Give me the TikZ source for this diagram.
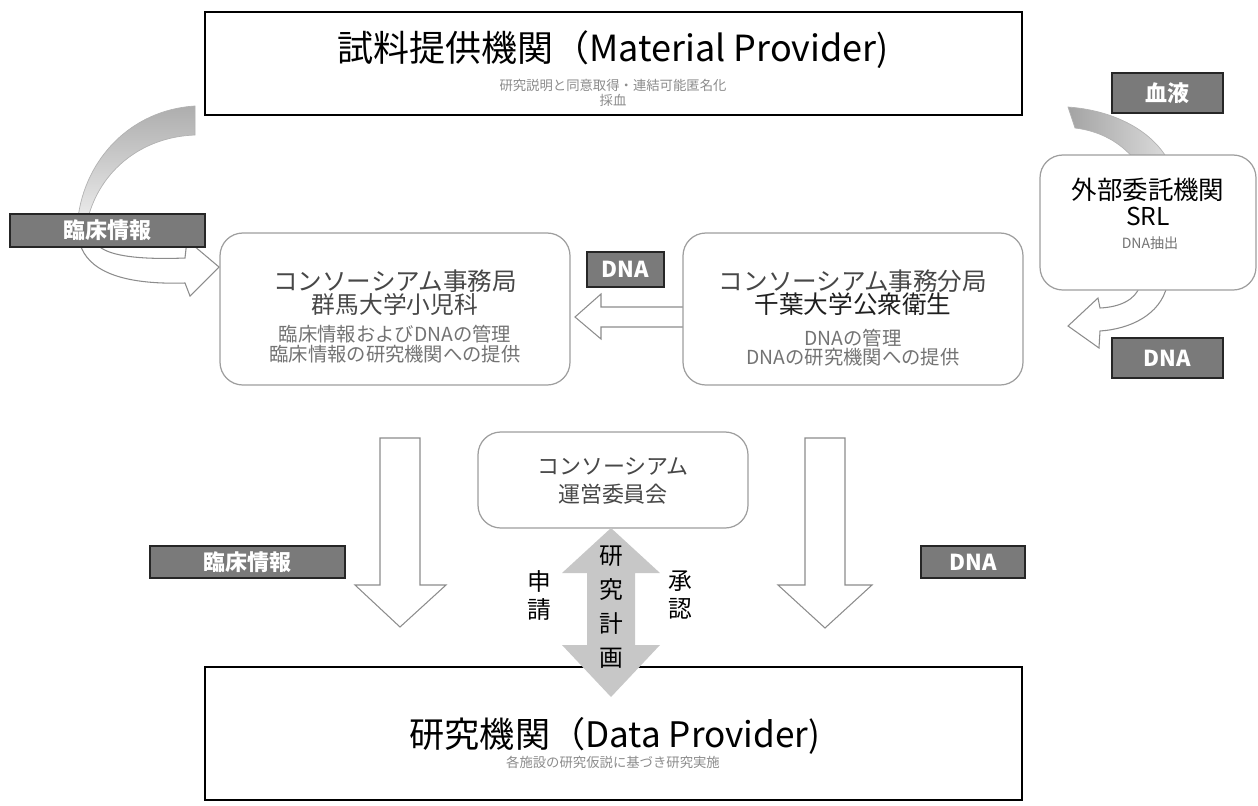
\documentclass[tikz,border=0pt]{standalone}
\usepackage{fontspec}
\setmainfont{Noto Sans CJK JP}
\usetikzlibrary{fit}
\newcommand\jpsize[1]{\fontsize{#1}{#1}\selectfont}
\begin{document}
\begin{tikzpicture}[x=0.02cm,y=-0.02cm,
  frame/.style={draw=black, line width=0.8pt, fill=white, inner sep=0pt},
  rbox/.style={draw=black!38, line width=0.7pt, rounded corners=13pt, fill=white, inner sep=0pt},
  tag/.style={draw=black!85, line width=0.6pt, fill=black!52, inner sep=0pt},
  tagtext/.style={text=white, inner sep=0pt, font=\bfseries\jpsize{12.5}},
  hollow/.style={draw=black!45, line width=0.6pt, fill=white, line join=miter},
  swoosh/.style={draw=black!30, line width=0.4pt},
  bigttl/.style={font=\jpsize{20}, text=black},
  btitle/.style={font=\jpsize{14}, text=black!72},
  bline/.style={font=\jpsize{11}, text=black!55},
  faint/.style={font=\jpsize{7.6}, text=black!45},
  vchar/.style={font=\jpsize{13.5}, text=black},
]
\useasboundingbox (0,0) rectangle (1258,805);

% ---- curved arrows (left) ----
\shadedraw[swoosh, top color=black!32, bottom color=black!8]
  (195,106) .. controls (130,110) and (85,160) .. (78,218)
  -- (88,218) .. controls (100,172) and (140,137) .. (195,135) -- cycle;
\draw[hollow]
  (80,244) .. controls (88,270) and (120,285) .. (185,283)
  -- (190,296) -- (219,267) -- (187,240) -- (185,258)
  .. controls (135,260) and (105,255) .. (97,244) -- cycle;

% ---- curved arrows (right) ----
\shadedraw[swoosh, left color=black!36, right color=black!14]
  (1068,107) .. controls (1110,110) and (1150,128) .. (1168,160)
  -- (1135,160) .. controls (1120,142) and (1100,131) .. (1075,128) -- cycle;
\draw[hollow]
  (1140,286) .. controls (1135,300) and (1120,307) .. (1100,308)
  -- (1098,298) -- (1068,326) -- (1099,348)
  -- (1100,331) .. controls (1130,329) and (1160,315) .. (1167,286) -- cycle;

% ---- straight hollow arrows ----
\draw[hollow] (684,307) -- (601,307) -- (601,294) -- (575,317) -- (601,339) -- (601,327) -- (684,327) -- cycle;
\draw[hollow] (380,438) -- (420,438) -- (420,585) -- (446,585) -- (400,627) -- (355,585) -- (380,585) -- cycle;
\draw[hollow] (805,438) -- (845,438) -- (845,585) -- (872,585) -- (825,628) -- (778,585) -- (805,585) -- cycle;

% ---- boxes ----
\node[frame, fit={(205,12) (1022,115)}] (provider) {};
\node[frame, fit={(205,667) (1022,800)}] (research) {};
\node[rbox, fit={(220,233) (570,385)}] (office) {};
\node[rbox, fit={(683,233) (1023,385)}] (branch) {};
\node[rbox, fit={(1040,155) (1256,290)}] (srl) {};
\node[rbox, fit={(478,432) (748,528)}] (committee) {};

% ---- double arrow ----
\fill[black!22] (611,528) -- (660,573) -- (635,573) -- (635,645) -- (660,645) -- (611,697)
  -- (562,645) -- (587,645) -- (587,573) -- (562,573) -- cycle;

% ---- tags ----
\node[tag, fit={(10,214) (205,247)}] (tagclin1) {};
\node[tag, fit={(587,252) (664,287)}] (tagdna1) {};
\node[tag, fit={(1112,73) (1223,113)}] (tagblood) {};
\node[tag, fit={(1112,338) (1223,378)}] (tagdna2) {};
\node[tag, fit={(150,546) (345,578)}] (tagclin2) {};
\node[tag, fit={(921,546) (1025,578)}] (tagdna3) {};
\node[tagtext] (tagclin1t) at (tagclin1.center) {臨床情報};
\node[tagtext] (tagdna1t) at (tagdna1.center) {DNA};
\node[tagtext] (tagbloodt) at (tagblood.center) {血液};
\node[tagtext] (tagdna2t) at (tagdna2.center) {DNA};
\node[tagtext] (tagclin2t) at (tagclin2.center) {臨床情報};
\node[tagtext] (tagdna3t) at (tagdna3.center) {DNA};

% ---- texts ----
\node[bigttl, font=\jpsize{20.5}] (provtitle) at (613,50) {試料提供機関（Material Provider)};
\node[faint] (provsub1) at (613,85) {研究説明と同意取得・連結可能匿名化};
\node[faint] (provsub2) at (613,100) {採血};

\node[bigttl] (restitle) at (615,736) {研究機関（Data Provider)};
\node[faint] (ressub) at (613,762) {各施設の研究仮説に基づき研究実施};

\node[btitle] (offt1) at (395,281) {コンソーシアム事務局};
\node[btitle, font=\jpsize{13.5}] (offt2) at (395,304) {群馬大学小児科};
\node[bline] (offl1) at (395,334) {臨床情報およびDNAの管理};
\node[bline] (offl2) at (395,354) {臨床情報の研究機関への提供};

\node[btitle] (brt1) at (853,281) {コンソーシアム事務分局};
\node[btitle, text=black!88] (brt2) at (853,304) {千葉大学公衆衛生};
\node[bline] (brl1) at (853,338) {DNAの管理};
\node[bline] (brl2) at (853,357) {DNAの研究機関への提供};

\node[font=\jpsize{14.5}, text=black] (srlt1) at (1148,190) {外部委託機関};
\node[font=\jpsize{14}, text=black] (srlt2) at (1148,216) {SRL};
\node[font=\jpsize{8}, text=black!55] (srlt3) at (1150,243) {DNA抽出};

\node[font=\jpsize{12.5}, text=black!72] (comt1) at (613,466) {コンソーシアム};
\node[font=\jpsize{12.5}, text=black!72] (comt2) at (613,494) {運営委員会};

\node[vchar] (v1) at (611,556) {研};
\node[vchar] (v2) at (611,590) {究};
\node[vchar] (v3) at (611,624) {計};
\node[vchar] (v4) at (611,658) {画};
\node[vchar] (a1) at (539,581) {申};
\node[vchar] (a2) at (539,609) {請};
\node[vchar] (b1) at (680,581) {承};
\node[vchar] (b2) at (680,609) {認};
\end{tikzpicture}
\end{document}
